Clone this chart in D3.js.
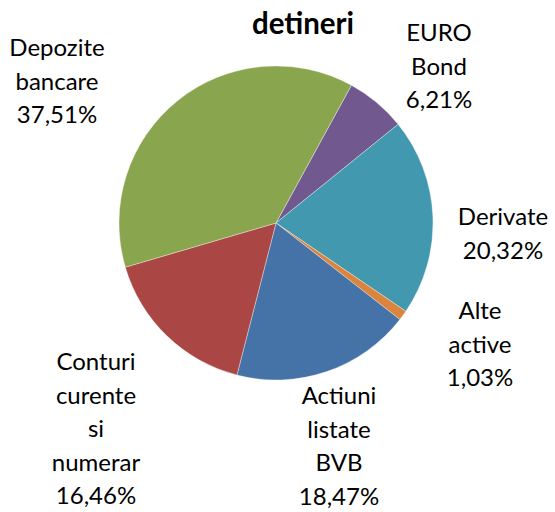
<!DOCTYPE html>
<html lang="ro">
<head>
  <meta charset="UTF-8">
  <title>detineri</title>
  <script src="https://d3js.org/d3.v7.min.js"></script>
  <style>
    body {
      margin: 0;
      background: #fff;
    }
    .label {
      font-family: Lato, "Noto Sans", sans-serif;
      font-size: 24px;
      fill: #000;
      text-anchor: middle;
    }
    .title {
      font-family: Lato, "Noto Sans", sans-serif;
      font-size: 29.5px;
      font-weight: bold;
      text-anchor: middle;
    }
  </style>
</head>
<body>
  <svg width="555" height="512"></svg>

  <script>
    // date (in ordinea feliilor, in sensul acelor de ceasornic)
    const categories = ["EURO Bond", "Derivate", "Alte active", "Actiuni listate BVB", "Conturi curente si numerar", "Depozite bancare"];
    const values = [6.21, 20.32, 1.03, 18.47, 16.46, 37.51];
    const labelLines = [
      ["EURO", "Bond"],
      ["Derivate"],
      ["Alte", "active"],
      ["Actiuni", "listate", "BVB"],
      ["Conturi", "curente", "si", "numerar"],
      ["Depozite", "bancare"]
    ];
    const colors = ["#71588F", "#4198AF", "#DB843D", "#4572A7", "#AA4643", "#89A54E"];

    const data = categories.map((c, i) => ({ name: c, value: values[i], lines: labelLines[i] }));

    const svg = d3.select("svg");
    const cx = 276, cy = 223, radius = 157;
    const start = 28.7 * Math.PI / 180;

    const pie = d3.pie()
      .sort(null)
      .value(d => d.value)
      .startAngle(start)
      .endAngle(start + 2 * Math.PI);

    const arc = d3.arc().innerRadius(0).outerRadius(radius);

    const g = svg.append("g").attr("transform", `translate(${cx},${cy})`);

    g.selectAll("path")
      .data(pie(data))
      .join("path")
      .attr("d", arc)
      .attr("fill", (d, i) => colors[i])
      .attr("stroke", "#fff")
      .attr("stroke-width", 0.6)
      .attr("stroke-opacity", 0.6);

    // titlu
    svg.append("text")
      .attr("class", "title")
      .attr("x", 303)
      .attr("y", 34)
      .text("detineri");

    // etichete: pozitia primei linii (centru x, baseline y)
    const labelPos = [[439, 41], [503, 225], [480, 319], [339, 404], [96, 370], [57, 56]];
    const lineH = 33.5;
    const fmt = v => d3.format(".2f")(v).replace(".", ",") + "%";

    data.forEach((d, i) => {
      const t = svg.append("text")
        .attr("class", "label")
        .attr("x", labelPos[i][0])
        .attr("y", labelPos[i][1]);
      d.lines.concat([fmt(d.value)]).forEach((line, j) => {
        t.append("tspan")
          .attr("x", labelPos[i][0])
          .attr("dy", j === 0 ? 0 : lineH)
          .text(line);
      });
    });
  </script>
</body>
</html>
